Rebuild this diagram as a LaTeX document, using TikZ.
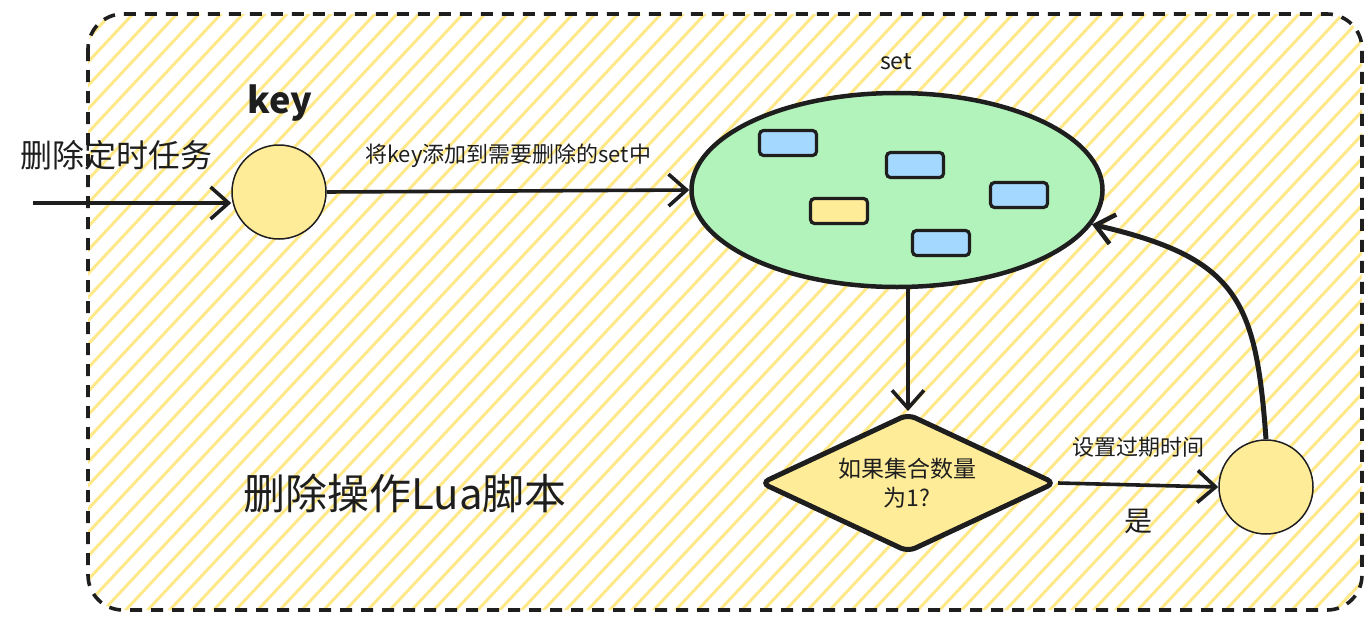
\documentclass[tikz,border=0pt]{standalone}
\usepackage{fontspec}
\setmainfont{Noto Sans CJK SC}
\usetikzlibrary{arrows.meta,shapes.geometric}
\definecolor{ink}{HTML}{1E1E1E}
\definecolor{yfill}{HTML}{FFEC99}
\definecolor{hatch}{HTML}{FFE88A}
\definecolor{gfill}{HTML}{B2F2BB}
\definecolor{bfill}{HTML}{A5D8FF}
\tikzset{
  arr/.style={draw=ink, line width=3.6pt, -{Straight Barb[length=18pt,width=32pt,line width=3.6pt]}},
  dotcirc/.style={circle, draw=ink, line width=1.5pt, fill=yfill, minimum size=94pt, inner sep=0pt},
  item/.style={draw=ink, line width=3.2pt, rounded corners=4pt, minimum width=57pt, minimum height=25pt, inner sep=0pt},
  txt/.style={text=ink, inner sep=0pt},
}
\begin{document}
\begin{tikzpicture}[x=1pt,y=-1pt]
\useasboundingbox (0,0) rectangle (1372,629);
% frame with hatching
\begin{scope}
  \clip[rounded corners=35pt] (88,14) rectangle (1362,610);
  \foreach \i in {-640,-618,...,1380}{
    \draw[hatch, line width=3pt] (\i,629) -- ++(588,-629);
  }
\end{scope}
\draw[ink, line width=3.6pt, dash pattern=on 12pt off 9pt, rounded corners=35pt] (88,14) rectangle (1362,610);

% nodes
\node[txt, font=\fontsize{32}{36}\selectfont] (t1) at (116,155) {删除定时任务};
\node[dotcirc] (k) at (279,192) {};
\node[txt, font=\fontsize{36}{40}\selectfont\bfseries] (klab) at (280,103) {key};
\node[ellipse, draw=ink, line width=4.5pt, fill=gfill, minimum width=411pt, minimum height=194pt, inner sep=0pt] (s) at (897,190) {};
\node[txt, font=\fontsize{23}{26}\selectfont] (slab) at (896,62) {set};
\node[item, fill=bfill] (r1) at (788,143) {};
\node[item, fill=bfill] (r2) at (915,165) {};
\node[item, fill=bfill] (r3) at (1019,195) {};
\node[item, fill=yfill] (r4) at (839,211) {};
\node[item, fill=bfill] (r5) at (941,243) {};
\node[diamond, draw=ink, line width=5pt, fill=yfill, minimum width=295pt, minimum height=139pt, inner sep=0pt, aspect=2.1, rounded corners=8pt] (d) at (908,483) {};
\node[txt, font=\fontsize{23}{29}\selectfont, align=center] (dlab) at (907,483) {如果集合数量\\为1?};
\node[dotcirc] (c2) at (1266,487) {};
\node[txt, font=\fontsize{42}{46}\selectfont] (lua) at (405,493) {删除操作Lua脚本};
\coordinate (in) at (33,203);

% connectors
\draw[arr] (in) -- (in -| k.west);
\draw[arr] (k.east) -- node[above=22pt, txt, font=\fontsize{22}{26}\selectfont] (l1) {将key添加到需要删除的set中} (s.west);
\draw[arr] (d.north |- s.south) -- (d.north);
\draw[arr] (d.east) -- node[above=26pt, txt, font=\fontsize{22}{26}\selectfont] (l2) {设置过期时间} node[below=22pt, txt, font=\fontsize{28}{32}\selectfont] (l3) {是} (c2.west);
\draw[draw=ink, line width=5pt, -{Straight Barb[length=18pt,width=30pt,line width=4.5pt]}] (c2.north) .. controls (1256,300) and (1238,258) .. (s.-10);
\end{tikzpicture}
\end{document}
